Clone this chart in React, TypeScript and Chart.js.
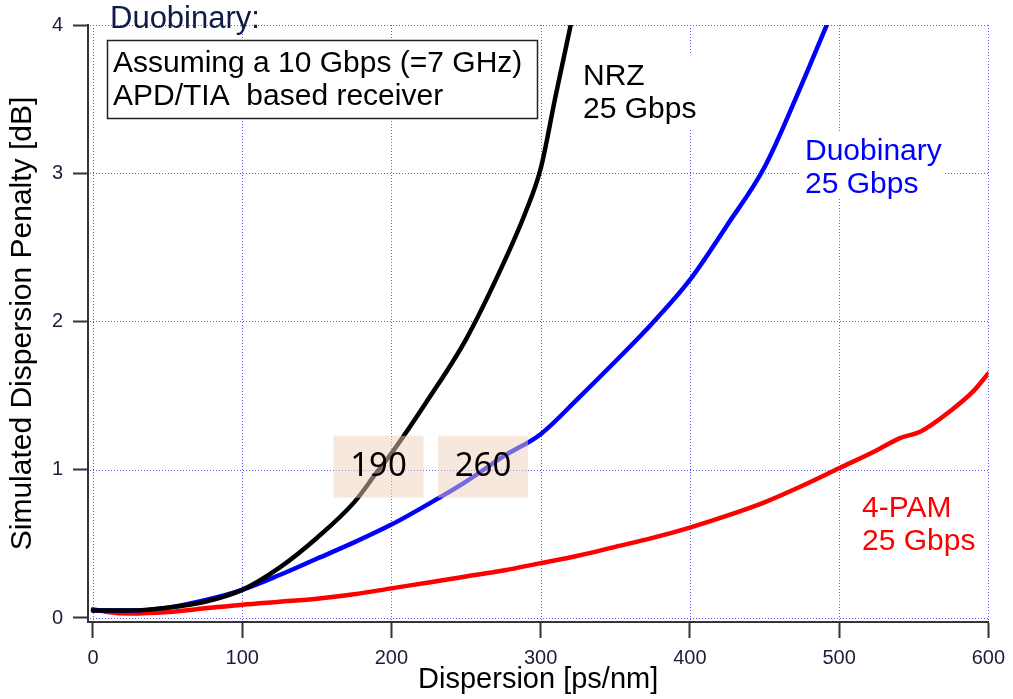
import React, { useEffect, useRef } from "react";
import { Chart, registerables } from "chart.js";

Chart.register(...registerables);

// ---------- data ----------
const xTickValues = [0, 100, 200, 300, 400, 500, 600];
const yTickValues = [0, 1, 2, 3, 4];

const nrzX = [0, 25, 50, 75, 100, 125, 150, 175, 190, 200, 225, 250, 275, 290, 300, 310, 321];
const nrzY = [0.05, 0.05, 0.07, 0.11, 0.19, 0.34, 0.54, 0.78, 0.98, 1.11, 1.48, 1.88, 2.39, 2.74, 3.03, 3.52, 4.04];

const duoX = [0, 25, 50, 75, 100, 125, 150, 175, 200, 225, 250, 275, 300, 325, 350, 375, 400, 425, 450, 475, 493];
const duoY = [0.05, 0.05, 0.07, 0.12, 0.19, 0.29, 0.4, 0.51, 0.63, 0.77, 0.92, 1.09, 1.24, 1.48, 1.73, 1.99, 2.28, 2.65, 3.04, 3.6, 4.03];

const pamX = [0, 10, 25, 50, 75, 100, 125, 150, 175, 200, 225, 250, 275, 300, 325, 350, 375, 400, 425, 450, 475, 500, 525, 540, 555, 575, 590, 600];
const pamY = [0.06, 0.04, 0.03, 0.04, 0.065, 0.09, 0.11, 0.13, 0.16, 0.2, 0.24, 0.28, 0.32, 0.37, 0.42, 0.48, 0.54, 0.61, 0.69, 0.78, 0.89, 1.01, 1.13, 1.21, 1.26, 1.4, 1.53, 1.65];

const markerValues = [190, 260];
const markerLabels = ["190", "260"];

const seriesNames = ["NRZ 25 Gbps", "Duobinary 25 Gbps", "4-PAM 25 Gbps"];

const FONT = "'Liberation Sans', Arial, sans-serif";
const GRID_COLOR = "#5858ff";

function pts(xs: number[], ys: number[]) {
  return xs.map((x, i) => ({ x, y: ys[i] }));
}

// dotted blue grid, drawn as crisp 1px dots
const dottedGridPlugin = {
  id: "dottedGrid",
  beforeDatasetsDraw(chart: any) {
    const { ctx, chartArea } = chart;
    const xs = chart.scales.x;
    const ys = chart.scales.y;
    const top = Math.round(ys.getPixelForValue(yTickValues[yTickValues.length - 1]));
    const bottom = Math.round(chartArea.bottom);
    const right = Math.round(xs.getPixelForValue(xTickValues[xTickValues.length - 1]));
    ctx.save();
    ctx.fillStyle = GRID_COLOR;
    xTickValues.forEach((v) => {
      const px = Math.round(xs.getPixelForValue(v));
      for (let y = top; y < bottom; y += 3) ctx.fillRect(px, y, 1, 1);
    });
    yTickValues.forEach((v) => {
      const py = Math.round(ys.getPixelForValue(v));
      for (let x = Math.round(chartArea.left) + 2; x <= right; x += 3) ctx.fillRect(x, py, 1, 1);
    });
    ctx.restore();
  },
};

const annotationPlugin = {
  id: "annotations",
  afterDatasetsDraw(chart: any) {
    const { ctx } = chart;
    const xs = chart.scales.x;
    const ys = chart.scales.y;
    ctx.save();

    // highlight boxes at 1 dB
    markerValues.forEach((v, i) => {
      const cx = xs.getPixelForValue(v) + 2;
      const cy = ys.getPixelForValue(1);
      ctx.fillStyle = "rgba(240,210,190,0.5)";
      ctx.fillRect(cx - 45, cy - 34, 90, 62);
      ctx.fillStyle = "#000";
      ctx.font = "33px 'Noto Sans', 'Open Sans', sans-serif";
      ctx.textAlign = "center";
      ctx.textBaseline = "middle";
      ctx.fillText(markerLabels[i], cx, cy - 3);
    });

    ctx.textAlign = "left";
    ctx.textBaseline = "alphabetic";

    // "Duobinary:" heading
    ctx.font = `31px ${FONT}`;
    ctx.fillStyle = "#0e1a47";
    ctx.fillText("Duobinary:", 110, 28);

    // receiver box
    ctx.fillStyle = "#fff";
    ctx.fillRect(107, 40, 430, 78);
    ctx.strokeStyle = "#222";
    ctx.lineWidth = 1.5;
    ctx.strokeRect(107.5, 40.5, 430, 78);
    ctx.fillStyle = "#000";
    ctx.font = `30px ${FONT}`;
    ctx.fillText("Assuming a 10 Gbps (=7 GHz)", 113, 72);
    ctx.fillText("APD/TIA  based receiver", 113, 105);

    // series labels
    const labels = [
      { lines: ["NRZ", "25 Gbps"], color: "#000", x: 583, y: 85, bg: [579, 55, 120, 75] },
      { lines: ["Duobinary", "25 Gbps"], color: "#0000ff", x: 805, y: 160, bg: [800, 132, 143, 66] },
      { lines: ["4-PAM", "25 Gbps"], color: "#ff0000", x: 862, y: 517, bg: [858, 490, 120, 68] },
    ];
    labels.forEach((l) => {
      ctx.fillStyle = "#fff";
      ctx.fillRect(l.bg[0], l.bg[1], l.bg[2], l.bg[3]);
      ctx.fillStyle = l.color;
      ctx.font = `30px ${FONT}`;
      l.lines.forEach((t, j) => ctx.fillText(t, l.x, l.y + j * 33));
    });

    ctx.restore();
  },
};

export default function App() {
  const canvasRef = useRef<HTMLCanvasElement | null>(null);

  useEffect(() => {
    if (!canvasRef.current) return;
    Chart.defaults.font.family = FONT;
    const lineCommon = {
      borderWidth: 4.5,
      pointRadius: 0,
      cubicInterpolationMode: "monotone" as const,
      borderJoinStyle: "round" as const,
      borderCapStyle: "round" as const,
    };
    const chart = new Chart(canvasRef.current, {
      type: "line",
      data: {
        datasets: [
          { label: seriesNames[0], data: pts(nrzX, nrzY), borderColor: "#000000", ...lineCommon },
          { label: seriesNames[1], data: pts(duoX, duoY), borderColor: "#0000ff", ...lineCommon },
          { label: seriesNames[2], data: pts(pamX, pamY), borderColor: "#ff0000", ...lineCommon },
        ],
      },
      options: {
        responsive: false,
        animation: false,
        events: [],
        layout: { padding: { left: 0, top: 25, right: 19, bottom: 0 } },
        plugins: {
          legend: { display: false },
          tooltip: { enabled: false },
        },
        scales: {
          x: {
            type: "linear",
            min: -3.33,
            max: 600,
            afterBuildTicks: (s: any) => {
              s.ticks = xTickValues.map((v) => ({ value: v }));
            },
            afterFit: (s: any) => {
              s.height = 77;
            },
            ticks: {
              autoSkip: false,
              maxRotation: 0,
              padding: 8,
              color: "#1c1c3c",
              font: { size: 20, family: FONT },
              callback: (v: any) => String(v),
            },
            grid: {
              drawOnChartArea: false,
              color: GRID_COLOR,
              lineWidth: 1,
              tickLength: 16,
              tickColor: "#333",
              tickWidth: 2,
            },
            border: { display: true, color: "#333", width: 2 },
            title: {
              display: true,
              text: "Dispersion [ps/nm]",
              color: "#000",
              font: { size: 29, family: FONT },
              padding: { top: 0, bottom: 2 },
            },
          },
          y: {
            type: "linear",
            min: -0.027,
            max: 4,
            afterBuildTicks: (s: any) => {
              s.ticks = yTickValues.map((v) => ({ value: v }));
            },
            afterFit: (s: any) => {
              s.width = 88;
            },
            ticks: {
              autoSkip: false,
              padding: 10,
              color: "#1c1c3c",
              font: { size: 20, family: FONT },
              callback: (v: any) => String(v),
            },
            grid: {
              drawOnChartArea: false,
              color: GRID_COLOR,
              lineWidth: 1,
              tickLength: 15,
              tickColor: "#333",
              tickWidth: 2,
            },
            border: { display: true, color: "#333", width: 2 },
            title: {
              display: true,
              text: "Simulated Dispersion Penalty [dB]",
              color: "#000",
              font: { size: 30, family: FONT },
              padding: { top: 5, bottom: 0 },
            },
          },
        },
      },
      plugins: [dottedGridPlugin, annotationPlugin],
    });
    return () => chart.destroy();
  }, []);

  return (
    <div style={{ position: "absolute", left: 0, top: 0, width: 1013, height: 699, background: "#fff" }}>
      <canvas ref={canvasRef} width={1013} height={699} style={{ display: "block" }} />
    </div>
  );
}
